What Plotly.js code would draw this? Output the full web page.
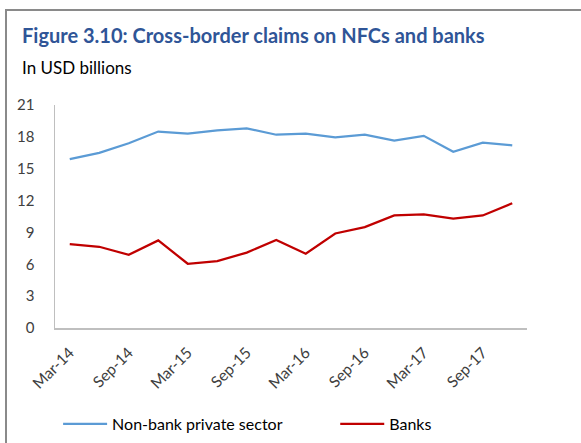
<!DOCTYPE html>
<html>
<head>
<meta charset="utf-8">
<script src="https://cdn.plot.ly/plotly-3.0.1.min.js"></script>
<style>
  html, body { margin: 0; padding: 0; background: #ffffff; }
  #chart { position: absolute; left: 0; top: 0; width: 581px; height: 443px; }
  #frame { position: absolute; left: 5px; top: 9px; width: 576px; height: 434px;
           border-top: 2px solid #8a8a8a; border-left: 2px solid #8a8a8a;
           box-sizing: border-box; pointer-events: none; }
</style>
</head>
<body>
<div id="chart"></div>
<div id="frame"></div>
<script>
const quarters = ["Mar-14","Jun-14","Sep-14","Dec-14","Mar-15","Jun-15","Sep-15","Dec-15",
                  "Mar-16","Jun-16","Sep-16","Dec-16","Mar-17","Jun-17","Sep-17","Dec-17"];
const nonBank = [15.9, 16.5, 17.4, 18.5, 18.3, 18.6, 18.8, 18.2, 18.3, 17.95, 18.2, 17.65, 18.1, 16.6, 17.45, 17.2];
const banks   = [7.9, 7.65, 6.9, 8.25, 6.05, 6.3, 7.1, 8.3, 7.0, 8.9, 9.5, 10.6, 10.7, 10.3, 10.6, 11.75];
const tickLabels = ["Mar-14","Sep-14","Mar-15","Sep-15","Mar-16","Sep-16","Mar-17","Sep-17"];
const yTicks = [0, 3, 6, 9, 12, 15, 18, 21];

const FONT = "Lato, 'Open Sans', sans-serif";

const traces = [
  { x: quarters, y: nonBank, type: "scatter", mode: "lines", name: "Non-bank private sector",
    line: { color: "#5B9BD5", width: 2.25 }, legend: "legend" },
  { x: quarters, y: banks, type: "scatter", mode: "lines", name: "Banks",
    line: { color: "#C00000", width: 2.25 }, legend: "legend2" }
];

const legendFont = { family: FONT, size: 16, color: "#000000" };

const layout = {
  width: 581, height: 443,
  margin: { l: 55, r: 54, t: 105, b: 115 },
  paper_bgcolor: "#ffffff", plot_bgcolor: "#ffffff",
  font: { family: FONT, color: "#404040", size: 14 },
  showlegend: true,
  xaxis: {
    type: "category", categoryorder: "array", categoryarray: quarters,
    range: [-0.5, 15.5], automargin: false,
    tickvals: tickLabels, ticktext: tickLabels,
    tickangle: -45, showgrid: false, zeroline: false,
    showline: true, linecolor: "#bfbfbf", linewidth: 1.5,
    ticks: "", ticklabelstandoff: 8,
    tickfont: { family: FONT, size: 15.5, color: "#404040" }
  },
  yaxis: {
    range: [0, 21], tickvals: yTicks, showgrid: false, zeroline: false,
    automargin: false,
    showline: true, linecolor: "#bfbfbf", linewidth: 1.5,
    ticks: "", ticklabelstandoff: 16,
    tickfont: { family: FONT, size: 15, color: "#404040" }
  },
  legend: {
    orientation: "h", xref: "container", yref: "container",
    x: 0.100, xanchor: "left", y: 0.043, yanchor: "middle",
    itemwidth: 44,
    font: legendFont, bgcolor: "rgba(0,0,0,0)"
  },
  legend2: {
    orientation: "h", xref: "container", yref: "container",
    x: 0.577, xanchor: "left", y: 0.043, yanchor: "middle",
    itemwidth: 44,
    font: legendFont, bgcolor: "rgba(0,0,0,0)"
  },
  annotations: [
    { text: "<b>Figure 3.10: Cross-border claims on NFCs and banks</b>",
      xref: "paper", yref: "paper", x: -0.074, y: 1.314, xanchor: "left", yanchor: "middle",
      showarrow: false, font: { family: FONT, size: 20, color: "#2F5597" } },
    { text: "In USD billions",
      xref: "paper", yref: "paper", x: -0.074, y: 1.170, xanchor: "left", yanchor: "middle",
      showarrow: false, font: { family: FONT, size: 17, color: "#000000" } }
  ]
};

Plotly.newPlot("chart", traces, layout, { displayModeBar: false, staticPlot: true });
</script>
</body>
</html>
